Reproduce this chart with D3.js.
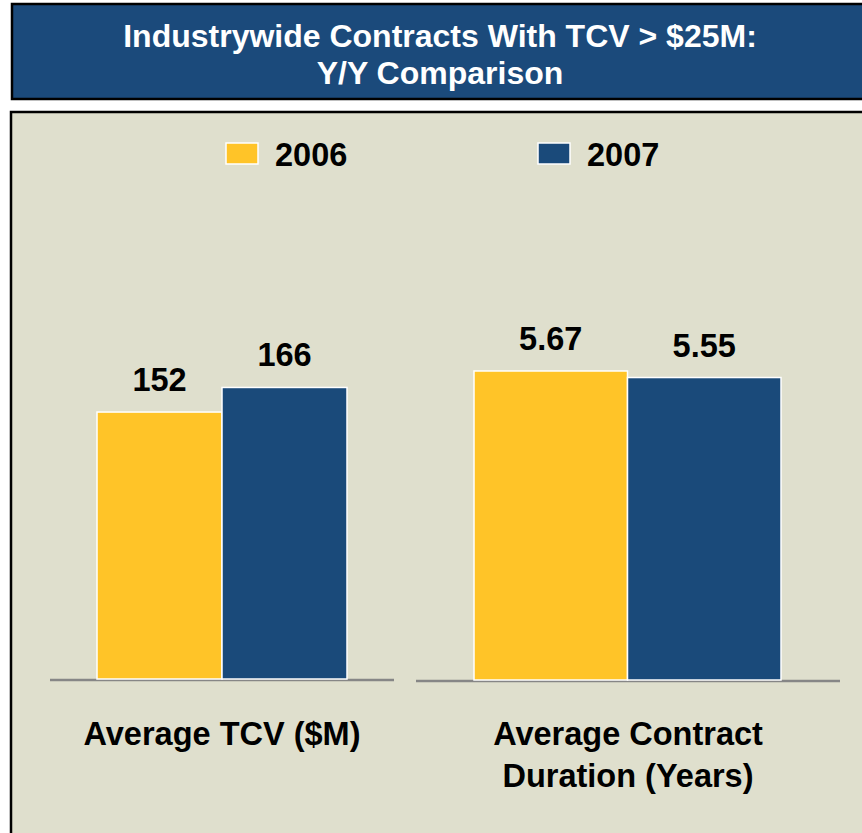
<!DOCTYPE html>
<html>
<head>
<meta charset="utf-8">
<script src="https://cdn.jsdelivr.net/npm/d3@7"></script>
<style>
  body { margin: 0; background: #fff; }
  text { font-family: "Liberation Sans", Arial, sans-serif; font-weight: bold; }
</style>
</head>
<body>
<div id="chart"></div>
<script>
// Data
let years = ['2006', '2007'];
let tcvValues = [152, 166];
let durationValues = [5.67, 5.55];
let tcvLabels = ['152', '166'];
let durationLabels = ['5.67', '5.55'];
let groupTitles = [['Average TCV ($M)'], ['Average Contract', 'Duration (Years)']];
let titleLines = ['Industrywide Contracts With TCV > $25M:', 'Y/Y Comparison'];

let colors = { '2006': '#ffc428', '2007': '#1a4a7a' };

let width = 862, height = 833;

let svg = d3.select("#chart")
  .append("svg")
  .attr("width", width)
  .attr("height", height);

// title box
svg.append("rect")
  .attr("x", 12).attr("y", 4)
  .attr("width", 870).attr("height", 95)
  .attr("fill", "#1b4a7b")
  .attr("stroke", "#000")
  .attr("stroke-width", 2.5);

svg.append("g")
  .selectAll("text")
  .data(titleLines)
  .join("text")
  .attr("x", 440)
  .attr("y", (d, i) => 47 + i * 37)
  .attr("text-anchor", "middle")
  .attr("fill", "#fff")
  .style("font-size", "32px")
  .text(d => d);

// panel
svg.append("rect")
  .attr("x", 11).attr("y", 112)
  .attr("width", 870).attr("height", 740)
  .attr("fill", "#dfdfcd")
  .attr("stroke", "#000")
  .attr("stroke-width", 2.5);

// legend
let legend = svg.append("g")
  .selectAll("g")
  .data(years)
  .join("g")
  .attr("transform", (d, i) => "translate(" + (226 + i * 312) + ",143)");

legend.append("rect")
  .attr("width", 32).attr("height", 21)
  .attr("fill", d => colors[d])
  .attr("stroke", "#fff")
  .attr("stroke-width", 1.5);

legend.append("text")
  .attr("x", 49).attr("y", 23)
  .style("font-size", "32.5px")
  .attr("fill", "#000")
  .text(d => d);

// groups
let groups = [
  { values: tcvValues, labels: tcvLabels, title: groupTitles[0],
    y: d3.scaleLinear().domain([0, 320]).range([679, 117]),
    x: d3.scaleBand().domain(years).range([97, 347]),
    line: [50, 394] },
  { values: durationValues, labels: durationLabels, title: groupTitles[1],
    y: d3.scaleLinear().domain([0, 10]).range([680, 135]),
    x: d3.scaleBand().domain(years).range([474, 781]),
    line: [416, 840] }
];

groups.forEach(function(g) {
  let grp = svg.append("g");
  let y0 = g.y(0);

  grp.append("line")
    .attr("x1", g.line[0]).attr("x2", g.line[1])
    .attr("y1", y0 + 1).attr("y2", y0 + 1)
    .attr("stroke", "#868686")
    .attr("stroke-width", 2.5);

  grp.selectAll("rect.bar")
    .data(years)
    .join("rect")
    .attr("class", "bar")
    .attr("x", d => g.x(d))
    .attr("width", g.x.bandwidth())
    .attr("y", (d, i) => g.y(g.values[i]))
    .attr("height", (d, i) => y0 - g.y(g.values[i]))
    .attr("fill", d => colors[d])
    .attr("stroke", "#fff")
    .attr("stroke-width", 1.5);

  grp.selectAll("text.val")
    .data(years)
    .join("text")
    .attr("class", "val")
    .attr("x", d => g.x(d) + g.x.bandwidth() / 2)
    .attr("y", (d, i) => g.y(g.values[i]) - 21)
    .attr("text-anchor", "middle")
    .style("font-size", "32.5px")
    .text((d, i) => g.labels[i]);

  grp.selectAll("text.cat")
    .data(g.title)
    .join("text")
    .attr("class", "cat")
    .attr("x", (g.line[0] + g.line[1]) / 2)
    .attr("y", (d, i) => 745 + i * 42)
    .attr("text-anchor", "middle")
    .style("font-size", "32.5px")
    .text(d => d);
});
</script>
</body>
</html>
